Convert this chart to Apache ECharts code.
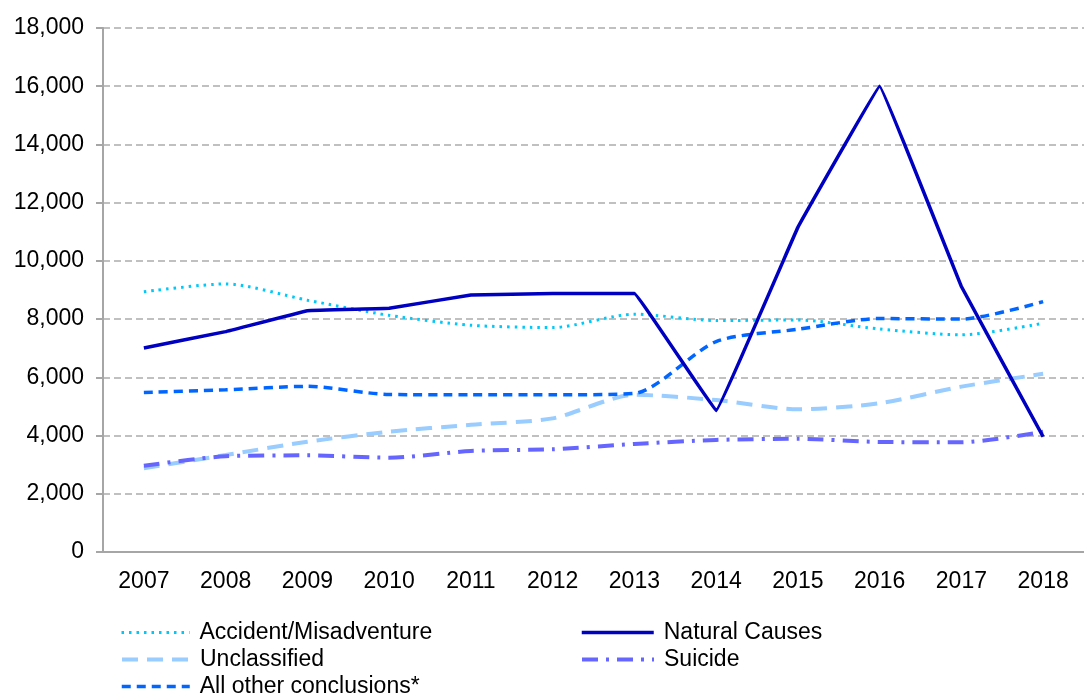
<!DOCTYPE html>
<html lang="en">
<head>
    <meta charset="UTF-8">
    <title>Conclusions</title>
    <script src="https://cdn.jsdelivr.net/npm/echarts@6/dist/echarts.min.js"></script>
    <style>
        html,body{margin:0;padding:0;background:#fff}
        #chart{width:1084px;height:695px}
    </style>
</head>
<body>
    <div id="chart"></div>
    <script>
        var years=['2007','2008','2009','2010','2011','2012','2013','2014','2015','2016','2017','2018'];
        var accident=[8940,9210,8650,8130,7790,7710,8170,7950,7970,7660,7460,7860];
        var natural=[7010,7570,8290,8370,8830,8880,8880,4860,11150,16000,9120,3960];
        var unclassified=[2880,3330,3790,4130,4370,4590,5400,5220,4900,5110,5680,6120];
        var suicide=[2960,3290,3320,3240,3470,3530,3710,3850,3890,3780,3770,4130];
        var otherConclusions=[5480,5570,5690,5410,5400,5400,5450,7230,7650,8020,8000,8600];

        var mychart=echarts.init(document.getElementById('chart'));
        var font='"Liberation Sans", Arial, sans-serif';

        // name, data, colour, width, dash, smooth, legend left, legend row centre, legend icon width
        var defs=[
            ['Accident/Misadventure',accident,'#00c8f8',3,[2.5,5],0.25,120,633,68],
            ['Natural Causes',natural,'#0000c0',3.5,'solid',0.03,580,633,72],
            ['Unclassified',unclassified,'#99ccff',4,[16,9],0.25,120,660,68],
            ['Suicide',suicide,'#6666ff',4,[16,8,3,8],0.25,580,660,72],
            ['All other conclusions*',otherConclusions,'#0066ff',3.5,[9,6],0.25,120,687,68]
        ];

        var series=[],legends=[];
        defs.forEach(function(d){
            series.push({
                name:d[0],
                type:'line',
                data:d[1],
                symbol:'none',
                smooth:d[5],
                color:d[2],
                lineStyle:{color:d[2],width:d[3],type:d[4]},
                z:d[0]=='Natural Causes'?5:3
            });
            legends.push({
                data:[d[0]],
                left:d[6],top:d[7]-12,padding:0,
                itemWidth:d[8],itemHeight:14,
                itemStyle:{opacity:0},
                lineStyle:{width:d[3],type:d[4]},
                textStyle:{fontFamily:font,fontSize:23,color:'#000',padding:[0,0,0,5]}
            });
        });

        var option={
            animation:false,
            grid:{left:103,right:-9,top:28,bottom:143},
            legend:legends,
            xAxis:{
                type:'category',
                data:years,
                boundaryGap:true,
                axisLine:{lineStyle:{color:'#a6a6a6',width:2}},
                axisTick:{alignWithLabel:true,length:5,lineStyle:{color:'#a6a6a6',width:2}},
                axisLabel:{fontFamily:font,fontSize:23,color:'#000',margin:18}
            },
            yAxis:{
                type:'value',
                min:0,max:18000,interval:2000,
                axisLine:{show:true,lineStyle:{color:'#a6a6a6',width:2}},
                axisTick:{show:true,length:7,lineStyle:{color:'#a6a6a6',width:2}},
                axisLabel:{fontFamily:font,fontSize:23,color:'#000',margin:19,
                    formatter:function(v){return v.toLocaleString('en-US');}},
                splitLine:{lineStyle:{color:'#c0c0c0',width:2,type:[7,4]}}
            },
            series:series
        };
        mychart.setOption(option);
    </script>
</body>
</html>
